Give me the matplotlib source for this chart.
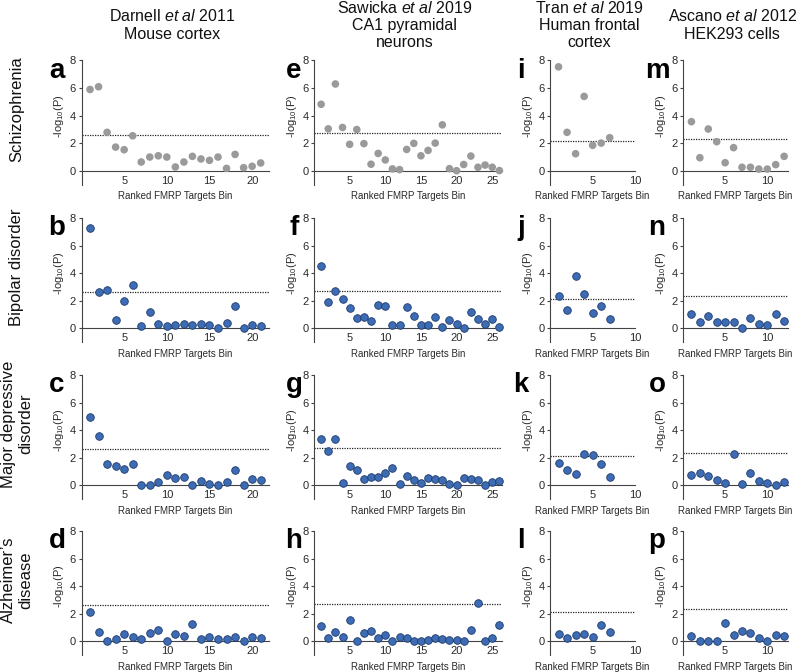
import numpy as np
import matplotlib
matplotlib.use("Agg")
import matplotlib.pyplot as plt

plt.rcParams['font.family'] = ['Liberation Sans', 'DejaVu Sans']
plt.rcParams['mathtext.fontset'] = 'custom'
plt.rcParams['mathtext.rm'] = 'Liberation Sans'
plt.rcParams['mathtext.it'] = 'Liberation Sans:italic'

# -log10(P) per ranked FMRP target bin
darnell_scz = [5.9, 6.1, 2.8, 1.73, 1.54, 2.55, 0.65, 1.01, 1.1, 1.01, 0.29, 0.65, 1.06, 0.87, 0.77, 1.01, 0.19, 1.2, 0.24, 0.34, 0.58]
darnell_bd = [7.24, 2.63, 2.8, 0.61, 2.0, 3.17, 0.2, 1.17, 0.34, 0.15, 0.27, 0.29, 0.24, 0.34, 0.27, 0.02, 0.39, 1.63, 0.0, 0.27, 0.17]
darnell_mdd = [4.94, 3.57, 1.57, 1.42, 1.16, 1.59, 0.0, 0.05, 0.27, 0.75, 0.51, 0.6, 0.05, 0.29, 0.12, 0.02, 0.27, 1.13, 0.0, 0.48, 0.41]
darnell_ad = [2.12, 0.66, 0.07, 0.15, 0.56, 0.34, 0.17, 0.63, 0.8, 0.05, 0.54, 0.39, 1.29, 0.15, 0.34, 0.17, 0.17, 0.34, 0.0, 0.32, 0.22]

sawicka_scz = [4.83, 3.05, 6.3, 3.15, 1.93, 3.0, 1.98, 0.49, 1.27, 0.8, 0.15, 0.1, 1.56, 2.0, 1.1, 1.49, 2.02, 3.34, 0.17, 0.02, 0.47, 1.08, 0.27, 0.43, 0.27, 0.03]
sawicka_bd = [4.51, 1.95, 2.7, 2.1, 1.46, 0.78, 0.85, 0.54, 1.7, 1.63, 0.24, 0.24, 1.52, 0.93, 0.23, 0.23, 0.81, 0.11, 0.6, 0.35, 0.07, 1.22, 0.66, 0.32, 0.68, 0.12]
sawicka_mdd = [3.37, 2.49, 3.37, 0.19, 1.4, 1.11, 0.44, 0.6, 0.6, 0.87, 1.26, 0.12, 0.72, 0.41, 0.15, 0.53, 0.47, 0.42, 0.12, 0.03, 0.54, 0.47, 0.43, 0.07, 0.26, 0.34]
sawicka_ad = [1.1, 0.24, 0.68, 0.29, 1.54, 0.05, 0.63, 0.73, 0.24, 0.46, 0.07, 0.36, 0.25, 0.03, 0.03, 0.12, 0.26, 0.15, 0.12, 0.12, 0.04, 0.8, 2.77, 0.0, 0.24, 1.17]

tran_scz = [7.54, 2.8, 1.25, 5.4, 1.86, 2.02, 2.41]
tran_bd = [2.32, 1.37, 3.78, 2.49, 1.15, 1.61, 0.71]
tran_mdd = [1.66, 1.11, 0.82, 2.27, 2.19, 1.54, 0.58]
tran_ad = [0.54, 0.22, 0.46, 0.56, 0.29, 1.2, 0.66]

ascano_scz = [3.57, 0.96, 3.04, 2.12, 0.6, 1.69, 0.27, 0.27, 0.14, 0.14, 0.46, 1.06]
ascano_bd = [1.05, 0.49, 0.88, 0.49, 0.49, 0.46, 0.07, 0.73, 0.32, 0.22, 1.02, 0.54]
ascano_mdd = [0.75, 0.87, 0.72, 0.43, 0.17, 2.31, 0.1, 0.89, 0.29, 0.19, 0.05, 0.24]
ascano_ad = [0.41, 0.05, 0.05, 0.05, 1.37, 0.44, 0.73, 0.61, 0.22, 0.07, 0.44, 0.39]

columns = [
    [darnell_scz, darnell_bd, darnell_mdd, darnell_ad],
    [sawicka_scz, sawicka_bd, sawicka_mdd, sawicka_ad],
    [tran_scz, tran_bd, tran_mdd, tran_ad],
    [ascano_scz, ascano_bd, ascano_mdd, ascano_ad],
]
thresholds = [2.63, 2.72, 2.15, 2.35]
col_titles = [
    "Darnell $\\mathit{et\\ al}$ 2011\nMouse cortex",
    "Sawicka $\\mathit{et\\ al}$ 2019\nCA1 pyramidal\nneurons",
    "Tran $\\mathit{et\\ al}$ 2019\nHuman frontal\ncortex",
    "Ascano $\\mathit{et\\ al}$ 2012\nHEK293 cells",
]
row_labels = ["Schizophrenia", "Bipolar disorder", "Major depressive\ndisorder", "Alzheimer\u2019s\ndisease"]
letters = ["abcd", "efgh", "ijkl", "mnop"]
xmaxs = [22, 26.3, 10, 12.4]
xtick_max = [20, 25, 10, 10]

W, H = 796, 672
col_left = [81.5, 314, 550, 683]
col_width = [187.7, 187.5, 85.3, 104.5]
row_top = [60.5, 218, 375, 531]
ax_h = 124.3
letter_x = [57, 294, 521, 657]

grey = '#9a9a9a'
blue = '#3d6cb4'
blue_edge = '#1c3a6b'
dark = '#2a2a2a'

fig = plt.figure(figsize=(W / 100, H / 100), dpi=100)

for c in range(4):
    for r in range(4):
        ax = fig.add_axes([col_left[c] / W, 1 - (row_top[r] + ax_h) / H, col_width[c] / W, ax_h / H])
        vals = columns[c][r]
        bins = np.arange(1, len(vals) + 1)
        ax.axhline(thresholds[c], color='#222222', lw=0.9, ls=(0, (1, 1)), zorder=1)
        if r == 0:
            ax.scatter(bins, vals, s=30, color=grey, edgecolors='none', zorder=3, clip_on=False)
        else:
            ax.scatter(bins, vals, s=30, color=blue, edgecolors=blue_edge, linewidths=0.6, zorder=3, clip_on=False)
        ax.set_xlim(0, xmaxs[c])
        ax.set_ylim(-1.0, 8)
        ax.set_yticks([0, 2, 4, 6, 8])
        ax.set_xticks(np.arange(5, xtick_max[c] + 1, 5))
        for s in ['top', 'right']:
            ax.spines[s].set_visible(False)
        ax.spines['bottom'].set_position(('data', 0))
        for s in ['left', 'bottom']:
            ax.spines[s].set_color('#444444')
            ax.spines[s].set_linewidth(0.8)
        ax.tick_params(axis='y', length=2.5, width=0.8, color='#444444', labelsize=8, labelcolor=dark, pad=1.5)
        ax.tick_params(axis='x', length=0, labelsize=8, labelcolor=dark, pad=3.5)
        ax.set_ylabel("-log$_{\\mathregular{10}}$(P)", fontsize=8, color=dark)
        ax.yaxis.set_label_coords(-15 / col_width[c], 5 / 9)
        ax.set_xlabel("Ranked FMRP Targets Bin", fontsize=7, color=dark, labelpad=4)
        fig.text(letter_x[c] / W, 1 - (row_top[r] + 17) / H, letters[c][r], fontsize=20,
                 fontweight='bold', ha='center', va='baseline')

for c in range(4):
    fig.text((col_left[c] + col_width[c] / 2 - 3) / W, 1 - 25 / H, col_titles[c], fontsize=11.5,
             ha='center', va='center', linespacing=1.2, color='#111111')

for r in range(4):
    fig.text(17 / W, 1 - (row_top[r] + 49) / H, row_labels[r], fontsize=12, rotation=90,
             ha='center', va='center', multialignment='center', linespacing=1.15, color='#111111')

fig.savefig("out.png", dpi=100)
